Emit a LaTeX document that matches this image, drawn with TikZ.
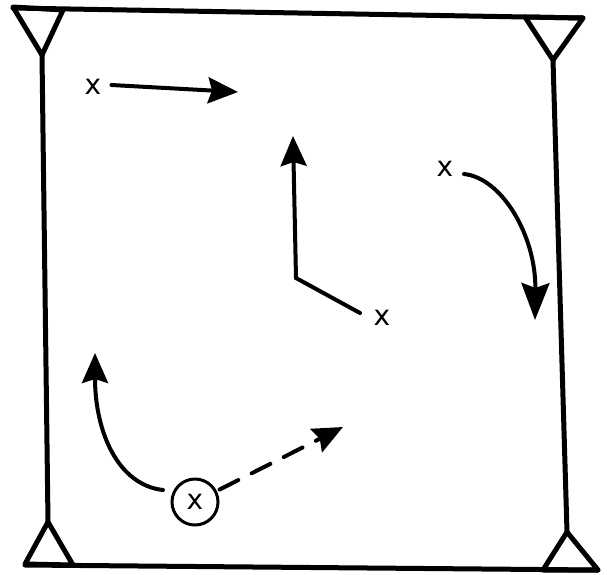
\documentclass[tikz,border=0pt]{standalone}
\usepackage{fontspec}
\setmainfont{DejaVu Sans}
\usetikzlibrary{arrows.meta}
\begin{document}
\begin{tikzpicture}[x=1pt,y=-1pt,
  frameline/.style={line width=5pt, line join=round, line cap=round},
  mv/.style={line width=4pt, line cap=round, line join=miter, -{Stealth[length=30pt,width=26pt,inset=4pt]}},
  lbl/.style={font=\fontsize{28}{28}\selectfont, inner sep=0pt},
  player/.style={lbl, circle, draw, line width=3pt, minimum size=46pt},
]
\useasboundingbox (0,0) rectangle (607,574);
% frame corners
\coordinate (tl) at (42,55);
\coordinate (tr) at (553,60);
\coordinate (bl) at (48,522);
\coordinate (br) at (567,532);
% triangles
\draw[frameline] (13,7) -- (63,10) -- (tl) -- cycle;
\draw[frameline] (525,17) -- (583,18) -- (tr) -- cycle;
\draw[frameline] (bl) -- (25,564) -- (73,565) -- cycle;
\draw[frameline] (br) -- (543,570) -- (598,570) -- cycle;
% sides
\draw[frameline] (13,8) -- (583,18);
\draw[frameline] (25,565) -- (598,570);
\draw[frameline] (tl) -- (bl);
\draw[frameline] (tr) -- (br);
% labels
\node[lbl] (p1) at (93,87) {x};
\node[lbl] (p2) at (382,318) {x};
\node[lbl] (p3) at (445,169) {x};
\node[player] (o) at (195,502) {x};
% arrow 1
\coordinate (a1e) at (238,92);
\draw[mv] ([xshift=10pt,yshift=2pt]p1.east) -- (a1e);
% arrow 2
\coordinate (a2s) at (360,313);
\coordinate (a2c) at (296,278);
\coordinate (a2e) at (293,136);
\draw[mv] (a2s) -- (a2c) -- (a2e);
% arrow 3
\coordinate (a3s) at (464,174);
\coordinate (a3e) at (535,320);
\draw[mv, -{Stealth[length=37pt,width=28pt,inset=5pt]}] (a3s) .. controls (502,178) and (536,236) .. (a3e);
% arrow 4
\coordinate (a4s) at (163,490);
\coordinate (a4e) at (95,353);
\draw[mv] (a4s) .. controls (118,485) and (95,432) .. (a4e);
% dashed arrow
\coordinate (a5e) at (343,427);
\draw[mv, dash pattern=on 21pt off 15pt, shorten <=3pt] (o) -- (a5e);
\end{tikzpicture}
\end{document}
